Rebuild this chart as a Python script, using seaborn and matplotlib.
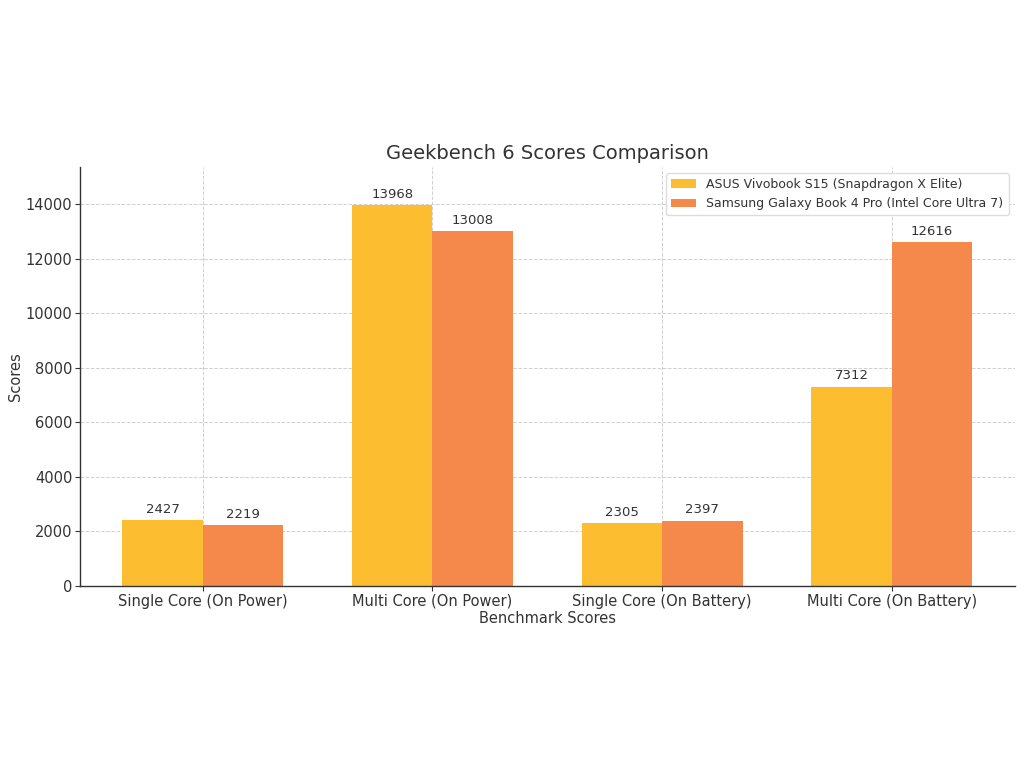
import matplotlib

matplotlib.use("Agg")

import matplotlib.pyplot as plt
import pandas as pd
import seaborn as sns

categories = [
    "Single Core (On Power)",
    "Multi Core (On Power)",
    "Single Core (On Battery)",
    "Multi Core (On Battery)",
]
devices = [
    "ASUS Vivobook S15 (Snapdragon X Elite)",
    "Samsung Galaxy Book 4 Pro (Intel Core Ultra 7)",
]
asus_scores = [2427, 13968, 2305, 7312]
samsung_scores = [2219, 13008, 2397, 12616]

palette = ["#FDBD30", "#F5894C"]
text_color = "#333333"

sns.set_theme(style="whitegrid")
plt.rcParams["font.family"] = ["DejaVu Sans"]

df = pd.DataFrame(
    {
        "Benchmark": categories * 2,
        "Device": [devices[0]] * 4 + [devices[1]] * 4,
        "Score": asus_scores + samsung_scores,
    }
)

fig = plt.figure(figsize=(10.24, 7.69), dpi=100)
ax = fig.add_axes([0.078, 0.238, 0.913, 0.545])

sns.barplot(
    df, x="Benchmark", y="Score", hue="Device", palette=palette,
    width=0.7, gap=0, saturation=1, ax=ax, errorbar=None, linewidth=0,
)

for container in ax.containers:
    ax.bar_label(container, labels=[f"{int(v)}" for v in container.datavalues],
                 padding=3, fontsize=9.5, color=text_color)

ax.set_xlim(-0.535, 3.535)
ax.set_ylim(0, max(asus_scores + samsung_scores) * 1.1)
ax.set_title("Geekbench 6 Scores Comparison", fontsize=14, color=text_color, pad=6)
ax.set_xlabel("Benchmark Scores", fontsize=10.5, color=text_color, labelpad=2)
ax.set_ylabel("Scores", fontsize=10.5, color=text_color, labelpad=2)
ax.tick_params(axis="both", labelsize=10.5, colors=text_color, length=3.5, width=0.8,
               left=True, bottom=True, pad=2)

ax.grid(True, linestyle="--", color="#d0d0d0", linewidth=0.7)
ax.set_axisbelow(True)
for side in ["top", "right"]:
    ax.spines[side].set_visible(False)
for side in ["left", "bottom"]:
    ax.spines[side].set_color("#333333")
    ax.spines[side].set_linewidth(1.0)

ax.legend(loc="upper right", fontsize=9, frameon=True, title=None,
          handlelength=2, framealpha=1, edgecolor="#dddddd", fancybox=True,
          labelcolor=text_color)

fig.savefig("out.png", dpi=100, facecolor="white")
plt.close(fig)
